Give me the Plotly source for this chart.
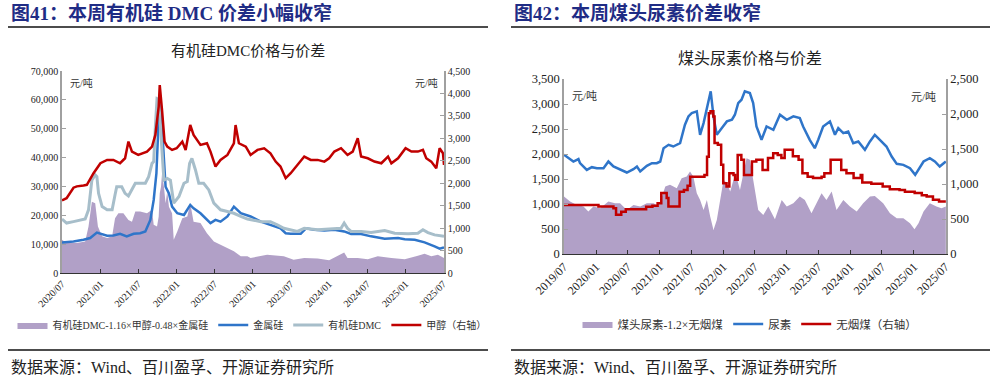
import plotly.graph_objects as go

# ---------------- Data: 图41 有机硅DMC ----------------
dmc_x_ticks = ["2020-07-01", "2021-01-01", "2021-07-01", "2022-01-01", "2022-07-01", "2023-01-01",
               "2023-07-01", "2024-01-01", "2024-07-01", "2025-01-01", "2025-07-01"]
dmc_x_text = ["2020/07", "2021/01", "2021/07", "2022/01", "2022/07", "2023/01",
              "2023/07", "2024/01", "2024/07", "2025/01", "2025/07"]

spread_dates = ["2020-07-01", "2020-07-23", "2020-09-10", "2020-10-20", "2020-11-05", "2020-11-21", "2020-12-07",
                "2020-12-20", "2021-01-09", "2021-02-02", "2021-02-26", "2021-03-12", "2021-03-28", "2021-04-21",
                "2021-05-15", "2021-06-01", "2021-06-17", "2021-07-10", "2021-08-12", "2021-09-05", "2021-09-13",
                "2021-09-29", "2021-10-07", "2021-10-12", "2021-10-18", "2021-10-23", "2021-11-01", "2021-11-09",
                "2021-11-17", "2021-11-25", "2021-12-10", "2021-12-18", "2022-01-04", "2022-01-28", "2022-02-21",
                "2022-03-07", "2022-03-23", "2022-04-25", "2022-05-26", "2022-06-28", "2022-07-30", "2022-09-01",
                "2022-10-02", "2022-11-04", "2022-12-06", "2022-12-21", "2023-03-10", "2023-05-29", "2023-07-15",
                "2023-09-04", "2023-11-07", "2024-01-01", "2024-02-11", "2024-03-13", "2024-03-29", "2024-05-17",
                "2024-07-04", "2024-08-21", "2024-10-25", "2024-12-28", "2025-03-01", "2025-04-02", "2025-05-04",
                "2025-06-05", "2025-07-04"]
spread_vals = [11500, 10400, 10400, 10900, 16100, 24700, 24200,
               16100, 12700, 12100, 12700, 19000, 20700, 20700,
               18400, 17800, 21300, 21300, 20700, 21900, 16700,
               16100, 19600, 27600, 29900, 34500, 29900, 24200,
               28200, 23000, 20700, 11500, 14400, 19000, 19600,
               24200, 17800, 17300, 13800, 10900, 9800, 8600,
               7500, 5800, 5800, 5200, 6300, 5800, 4600,
               5200, 5000, 4400, 5800, 7100, 5200, 5200,
               4800, 5800, 5200, 4800, 6000, 6700, 5800,
               6300, 5200]

si_dates = ["2020-07-01", "2020-08-25", "2020-10-12", "2020-11-13", "2020-12-15", "2021-01-01", "2021-02-02",
            "2021-03-04", "2021-04-05", "2021-05-07", "2021-06-09", "2021-07-10", "2021-08-04", "2021-08-28",
            "2021-09-13", "2021-09-26", "2021-10-04", "2021-10-10", "2021-10-18", "2021-10-28", "2021-11-09",
            "2021-11-25", "2021-12-10", "2022-01-04", "2022-02-05", "2022-03-07", "2022-03-23", "2022-04-25",
            "2022-06-12", "2022-07-06", "2022-07-30", "2022-09-01", "2022-10-02", "2022-11-04", "2022-12-06",
            "2022-12-21", "2023-02-08", "2023-03-26", "2023-05-13", "2023-06-07", "2023-07-01", "2023-08-18",
            "2023-09-12", "2023-10-21", "2023-12-09", "2024-01-26", "2024-03-13", "2024-04-15", "2024-06-02",
            "2024-07-20", "2024-09-23", "2024-11-26", "2024-12-28", "2025-02-14", "2025-04-02", "2025-05-20",
            "2025-06-13", "2025-07-04"]
si_vals = [10600, 10900, 11500, 12100, 14000, 13600, 12900,
           13000, 13600, 12700, 13600, 13800, 14400, 18400,
           25300, 34500, 50600, 58700, 56400, 43700, 29900,
           27600, 23000, 20700, 20100, 23600, 22400, 20700,
           17300, 18400, 17800, 19600, 23000, 20700, 19800,
           19600, 17800, 16700, 15500, 13800, 13600, 13600,
           15500, 15000, 14700, 15000, 14400, 13500, 13500,
           12700, 11900, 12100, 11700, 11500, 10600, 9200,
           8400, 8900]

dmc_dates = ["2020-07-01", "2020-07-23", "2020-08-25", "2020-10-20", "2020-11-05", "2020-11-21", "2020-12-07",
             "2020-12-15", "2020-12-23", "2021-01-09", "2021-02-02", "2021-02-26", "2021-03-12", "2021-03-20",
             "2021-04-13", "2021-04-29", "2021-05-15", "2021-06-01", "2021-06-17", "2021-08-04", "2021-08-20",
             "2021-09-05", "2021-09-13", "2021-09-21", "2021-09-29", "2021-10-07", "2021-10-15", "2021-10-23",
             "2021-11-01", "2021-11-17", "2021-12-02", "2021-12-18", "2022-01-12", "2022-02-05", "2022-02-21",
             "2022-03-04", "2022-03-15", "2022-04-01", "2022-04-17", "2022-05-10", "2022-06-04", "2022-06-28",
             "2022-07-30", "2022-09-01", "2022-10-02", "2022-11-04", "2022-12-06", "2023-02-08", "2023-03-26",
             "2023-04-28", "2023-05-29", "2023-08-02", "2023-09-04", "2023-11-07", "2024-01-26", "2024-02-27",
             "2024-03-13", "2024-03-29", "2024-04-15", "2024-06-02", "2024-07-20", "2024-09-23", "2024-11-10",
             "2025-01-13", "2025-03-01", "2025-03-25", "2025-04-18", "2025-05-20", "2025-07-04"]
dmc_vals = [18700, 17300, 17800, 18700, 21900, 32200, 34000,
            33400, 27600, 23000, 21900, 21900, 27100, 29900,
            29900, 27600, 26700, 28800, 31100, 31100, 33400,
            38000, 38600, 50600, 60400, 60100, 50600, 39100,
            32200, 32800, 32200, 24200, 26500, 31100, 31700,
            38000, 39700, 35700, 31100, 31100, 28800, 24200,
            21900, 21300, 20700, 19600, 18700, 17800, 17800,
            16700, 15500, 14400, 15500, 15000, 15500, 15500,
            17300, 15500, 14400, 14400, 14000, 14700, 13800,
            13600, 13800, 15000, 14000, 13200, 12700]

meoh_dates = ["2020-07-01", "2020-07-23", "2020-08-25", "2020-09-10", "2020-10-12", "2020-10-28", "2020-11-29",
              "2021-01-01", "2021-02-02", "2021-03-04", "2021-04-05", "2021-04-29", "2021-05-15", "2021-06-01",
              "2021-07-01", "2021-08-12", "2021-09-05", "2021-09-21", "2021-10-07", "2021-10-12", "2021-10-23",
              "2021-11-04", "2021-11-17", "2021-12-10", "2022-01-01", "2022-01-28", "2022-02-13", "2022-03-07",
              "2022-03-23", "2022-04-25", "2022-05-26", "2022-06-12", "2022-07-06", "2022-07-30", "2022-09-01",
              "2022-10-02", "2022-10-10", "2022-10-26", "2022-11-28", "2022-12-21", "2023-01-23", "2023-02-24",
              "2023-03-26", "2023-04-20", "2023-05-13", "2023-06-07", "2023-07-01", "2023-08-02", "2023-09-04",
              "2023-10-05", "2023-11-07", "2023-12-09", "2024-01-01", "2024-01-26", "2024-02-27", "2024-03-29",
              "2024-04-23", "2024-05-17", "2024-06-02", "2024-07-04", "2024-08-05", "2024-09-07", "2024-10-09",
              "2024-10-25", "2024-11-26", "2025-01-01", "2025-01-29", "2025-03-01", "2025-03-25", "2025-04-10",
              "2025-05-04", "2025-05-28", "2025-06-13", "2025-06-29", "2025-07-04"]
meoh_vals = [1615, 1667, 1900, 1930, 1950, 1964, 2223,
             2445, 2520, 2520, 2445, 2556, 2927, 2705,
             2630, 2705, 2816, 3075, 3705, 4187, 3630,
             2927, 2816, 2742, 2779, 2927, 2742, 3297,
             3075, 2853, 2890, 2705, 2371, 2520, 2630,
             2890, 3297, 2890, 2816, 2630, 2742, 2779,
             2668, 2482, 2371, 2112, 2223, 2408, 2594,
             2520, 2520, 2482, 2556, 2705, 2779, 2630,
             2705, 3001, 2594, 2556, 2482, 2445, 2594,
             2445, 2556, 2779, 2705, 2705, 2742, 2556,
             2482, 2334, 2779, 2668, 2408]

# ---------------- Data: 图42 煤头尿素 ----------------
urea_x_ticks = ["2019-07-01", "2020-01-01", "2020-07-01", "2021-01-01", "2021-07-01", "2022-01-01", "2022-07-01",
                "2023-01-01", "2023-07-01", "2024-01-01", "2024-07-01", "2025-01-01", "2025-07-01"]
urea_x_text = ["2019/07", "2020/01", "2020/07", "2021/01", "2021/07", "2022/01", "2022/07",
               "2023/01", "2023/07", "2024/01", "2024/07", "2025/01", "2025/07"]

urea_dates = ["2019-07-01", "2019-07-26", "2019-08-24", "2019-09-13", "2019-09-22", "2019-10-01", "2019-10-21",
              "2019-11-09", "2019-12-08", "2020-01-06", "2020-02-13", "2020-03-12", "2020-04-10", "2020-05-18",
              "2020-06-26", "2020-08-03", "2020-08-23", "2020-09-11", "2020-10-19", "2020-11-17", "2020-12-15",
              "2021-01-04", "2021-01-23", "2021-02-21", "2021-03-20", "2021-04-28", "2021-05-26", "2021-06-15",
              "2021-07-04", "2021-08-02", "2021-08-21", "2021-09-10", "2021-10-08", "2021-10-21", "2021-11-06",
              "2021-11-25", "2021-12-24", "2022-01-22", "2022-02-20", "2022-03-09", "2022-03-28", "2022-04-16",
              "2022-05-05", "2022-06-03", "2022-06-22", "2022-07-11", "2022-08-09", "2022-09-07", "2022-10-16",
              "2022-11-23", "2023-01-01", "2023-02-08", "2023-03-17", "2023-04-05", "2023-05-13", "2023-06-11",
              "2023-07-01", "2023-07-29", "2023-09-06", "2023-10-05", "2023-10-24", "2023-11-22", "2023-12-20",
              "2024-01-18", "2024-02-16", "2024-03-25", "2024-04-23", "2024-05-21", "2024-06-19", "2024-07-27",
              "2024-08-26", "2024-09-24", "2024-11-01", "2024-12-09", "2025-01-08", "2025-02-06", "2025-02-25",
              "2025-04-02", "2025-05-01", "2025-05-29", "2025-06-18", "2025-07-03"]
urea_vals = [1984, 1917, 1850, 1884, 1900, 1817, 1750,
             1683, 1737, 1717, 1717, 1850, 1750, 1683,
             1630, 1697, 1750, 1650, 1763, 1817, 1817,
             1850, 2117, 2184, 2150, 2217, 2585, 2752,
             2818, 2852, 2384, 2618, 3019, 3253, 2752,
             2384, 2518, 2652, 2685, 2785, 3019, 3086,
             3253, 3219, 3019, 2551, 2284, 2551, 2485,
             2785, 2685, 2752, 2718, 2551, 2284, 2117,
             2284, 2551, 2652, 2384, 2518, 2418, 2451,
             2217, 2251, 2084, 2251, 2384, 2284, 2150,
             1950, 1803, 1783, 1717, 1583, 1750, 1850,
             1917, 1850, 1750, 1817, 1850]

uspread_dates = ["2019-07-01", "2019-08-05", "2019-09-13", "2019-10-21", "2019-11-18", "2019-12-17", "2020-01-25",
                 "2020-03-12", "2020-04-19", "2020-05-18", "2020-06-26", "2020-08-03", "2020-09-11", "2020-10-19",
                 "2020-11-27", "2020-12-25", "2021-01-14", "2021-02-02", "2021-03-01", "2021-04-09", "2021-05-07",
                 "2021-06-05", "2021-06-24", "2021-07-13", "2021-08-02", "2021-08-21", "2021-09-10", "2021-09-29",
                 "2021-10-18", "2021-11-06", "2021-11-25", "2021-12-14", "2022-01-03", "2022-01-22", "2022-02-10",
                 "2022-03-01", "2022-03-18", "2022-04-07", "2022-04-26", "2022-05-15", "2022-06-03", "2022-06-22",
                 "2022-07-21", "2022-08-19", "2022-09-17", "2022-10-25", "2022-12-03", "2023-01-01", "2023-02-08",
                 "2023-03-17", "2023-04-15", "2023-05-23", "2023-07-01", "2023-07-20", "2023-08-17", "2023-09-16",
                 "2023-10-14", "2023-11-22", "2023-12-30", "2024-02-07", "2024-03-15", "2024-04-23", "2024-05-21",
                 "2024-07-08", "2024-08-16", "2024-09-24", "2024-11-01", "2024-12-09", "2025-01-04", "2025-01-27",
                 "2025-02-25", "2025-04-02", "2025-05-10", "2025-06-08", "2025-07-03"]
uspread_vals = [1149, 1049, 982, 948, 848, 948, 915,
                1049, 1015, 1015, 882, 982, 948, 1015,
                1015, 948, 1149, 1349, 1383, 1316, 1516,
                1550, 1650, 1550, 1216, 1082, 882, 1082,
                748, 481, 681, 1082, 1483, 1416, 1249,
                1483, 1550, 1282, 1616, 1917, 1884, 1483,
                882, 781, 948, 695, 1082, 948, 1015,
                1149, 1082, 815, 1082, 1216, 1082, 1249,
                882, 1082, 948, 848, 1015, 1149, 1162,
                1015, 815, 715, 715, 615, 494, 615,
                848, 1015, 948, 915, 948]

coal_dates = ["2019-07-01", "2020-01-15", "2020-04-10", "2020-04-25", "2020-05-25", "2020-06-20", "2020-10-15",
              "2020-11-20", "2020-12-20", "2021-01-10", "2021-02-10", "2021-02-20", "2021-04-25", "2021-05-20",
              "2021-06-10", "2021-06-25", "2021-09-15", "2021-09-30", "2021-10-10", "2021-10-20", "2021-11-05",
              "2021-11-12", "2021-12-01", "2021-12-20", "2022-01-01", "2022-01-20", "2022-02-05", "2022-03-01",
              "2022-03-10", "2022-03-25", "2022-04-15", "2022-04-30", "2022-06-15", "2022-07-10", "2022-08-15",
              "2022-09-15", "2022-10-15", "2022-11-10", "2022-12-01", "2022-12-20", "2023-02-05", "2023-03-10",
              "2023-04-01", "2023-05-01", "2023-06-01", "2023-07-20", "2023-08-05", "2023-09-10", "2023-11-10",
              "2023-12-10", "2024-01-20", "2024-03-01", "2024-03-10", "2024-05-01", "2024-07-05", "2024-08-15",
              "2024-10-10", "2024-11-10", "2025-01-05", "2025-02-15", "2025-03-15", "2025-04-20", "2025-05-25",
              "2025-07-03"]
coal_vals = [700, 680, 655, 560, 605, 640, 675,
             690, 725, 870, 800, 680, 890, 915,
             975, 1105, 1130, 1390, 2010, 2040, 1965,
             1585, 1560, 1275, 1010, 965, 1155, 1130,
             1060, 1415, 1345, 1130, 1320, 1345, 1200,
             1370, 1440, 1415, 1370, 1490, 1395, 1345,
             1155, 1105, 1085, 1105, 1155, 1345, 1200,
             1155, 1085, 1130, 1020, 1005, 965, 925,
             915, 890, 870, 840, 820, 775, 750,
             750]

# ---------------- Styling ----------------
W, H = 1003, 390
def px(x):
    return x / W
def py(y):
    return 1 - y / H

SERIF = "Liberation Serif, Noto Sans CJK SC, serif"
PURPLE = "#B1A0C7"
BLUE = "#2F75C9"
GRAY = "#A7BECA"
RED = "#C00000"
NAVY = "#1F2C85"
AX_GRAY = "#A0A0A0"

fig = go.Figure()

# left chart
fig.add_trace(go.Scatter(x=spread_dates, y=spread_vals, name="有机硅DMC-1.16×甲醇-0.48×金属硅",
                         fill="tozeroy", fillcolor=PURPLE, line=dict(width=0, color=PURPLE),
                         mode="lines", xaxis="x", yaxis="y", legend="legend"))
fig.add_trace(go.Scatter(x=si_dates, y=si_vals, name="金属硅", mode="lines",
                         line=dict(color=BLUE, width=2.5), xaxis="x", yaxis="y", legend="legend"))
fig.add_trace(go.Scatter(x=dmc_dates, y=dmc_vals, name="有机硅DMC", mode="lines",
                         line=dict(color=GRAY, width=3), xaxis="x", yaxis="y", legend="legend"))
fig.add_trace(go.Scatter(x=meoh_dates, y=meoh_vals, name="甲醇（右轴）", mode="lines",
                         line=dict(color=RED, width=2.5), xaxis="x", yaxis="y2", legend="legend"))

# right chart
fig.add_trace(go.Scatter(x=uspread_dates, y=uspread_vals, name="煤头尿素-1.2×无烟煤",
                         fill="tozeroy", fillcolor=PURPLE, line=dict(width=0, color=PURPLE),
                         mode="lines", xaxis="x2", yaxis="y3", legend="legend2"))
fig.add_trace(go.Scatter(x=urea_dates, y=urea_vals, name="尿素", mode="lines",
                         line=dict(color=BLUE, width=2.5), xaxis="x2", yaxis="y3", legend="legend2"))
fig.add_trace(go.Scatter(x=coal_dates, y=coal_vals, name="无烟煤（右轴）", mode="lines",
                         line=dict(color=RED, width=2.5, shape="hv"), xaxis="x2", yaxis="y4", legend="legend2"))

tickfont_s = dict(family=SERIF, size=10, color="#222")
tickfont_m = dict(family=SERIF, size=12.5, color="#222")

yax_common = dict(showgrid=False, zeroline=False, showline=True, linecolor=AX_GRAY, linewidth=1.5,
                  ticks="inside", ticklen=4, tickcolor=AX_GRAY, tickformat=",d", automargin=False)
xax_common = dict(type="date", showgrid=False, zeroline=False, showline=True, linecolor="#333",
                  linewidth=1.2, ticks="inside", ticklen=4, tickcolor="#333", tickangle=-45,
                  automargin=False)

fig.update_layout(
    width=W, height=H, autosize=False,
    margin=dict(l=0, r=0, t=0, b=0, autoexpand=False),
    paper_bgcolor="white", plot_bgcolor="rgba(0,0,0,0)",
    font=dict(family=SERIF, color="#222"),
    xaxis=dict(**xax_common, domain=[px(62), px(444)], anchor="y",
               range=["2020-07-01", "2025-07-04"], tickvals=dmc_x_ticks, ticktext=dmc_x_text,
               tickfont=tickfont_s),
    yaxis=dict(**yax_common, domain=[py(273), py(71)], anchor="x", range=[0, 70000], dtick=10000,
               tickfont=tickfont_s),
    yaxis2=dict(**yax_common, overlaying="y", side="right", anchor="x", range=[0, 4500], dtick=500,
                tickfont=tickfont_s),
    xaxis2=dict(**xax_common, domain=[px(564), px(946)], anchor="y3",
                range=["2019-07-01", "2025-07-04"], tickvals=urea_x_ticks, ticktext=urea_x_text,
                tickfont=dict(family=SERIF, size=12, color="#222")),
    yaxis3=dict(**yax_common, domain=[py(254), py(79)], anchor="x2", range=[0, 3500], dtick=500,
                tickfont=tickfont_m),
    yaxis4=dict(**yax_common, overlaying="y3", side="right", anchor="x2", range=[0, 2500], dtick=500,
                tickfont=tickfont_m),
    legend=dict(orientation="h", x=px(252), xanchor="center", y=py(325), yanchor="middle",
                font=dict(family=SERIF, size=10, color="#333"), bgcolor="rgba(0,0,0,0)",
                itemwidth=30),
    legend2=dict(orientation="h", x=px(750), xanchor="center", y=py(324), yanchor="middle",
                 font=dict(family=SERIF, size=11.5, color="#333"), bgcolor="rgba(0,0,0,0)",
                 itemwidth=30),
    showlegend=True,
)

annotations = [
    dict(text="<b>图41：本周有机硅 DMC 价差小幅收窄</b>", x=px(9), y=py(13), xanchor="left", yanchor="middle",
         font=dict(family=SERIF, size=19, color=NAVY)),
    dict(text="<b>图42：本周煤头尿素价差收窄</b>", x=px(512), y=py(13), xanchor="left", yanchor="middle",
         font=dict(family=SERIF, size=19, color=NAVY)),
    dict(text="有机硅DMC价格与价差", x=px(248), y=py(51), xanchor="center", yanchor="middle",
         font=dict(family=SERIF, size=15, color="#222")),
    dict(text="煤头尿素价格与价差", x=px(750), y=py(58), xanchor="center", yanchor="middle",
         font=dict(family=SERIF, size=16, color="#222")),
    dict(text="元/吨", x=px(68), y=py(83), xanchor="left", yanchor="middle",
         font=dict(family=SERIF, size=10, color="#333")),
    dict(text="元/吨", x=px(440), y=py(83), xanchor="right", yanchor="middle",
         font=dict(family=SERIF, size=10, color="#333")),
    dict(text="元/吨", x=px(570), y=py(96), xanchor="left", yanchor="middle",
         font=dict(family=SERIF, size=11, color="#333")),
    dict(text="元/吨", x=px(938), y=py(97), xanchor="right", yanchor="middle",
         font=dict(family=SERIF, size=11, color="#333")),
    dict(text="数据来源：Wind、百川盈孚、开源证券研究所", x=px(9), y=py(367), xanchor="left", yanchor="middle",
         font=dict(family=SERIF, size=16, color="#222")),
    dict(text="数据来源：Wind、百川盈孚、开源证券研究所", x=px(512), y=py(367), xanchor="left", yanchor="middle",
         font=dict(family=SERIF, size=16, color="#222")),
]
for a in annotations:
    a.update(xref="paper", yref="paper", showarrow=False)
fig.update_layout(annotations=annotations)

shapes = []
for (x0, x1) in [(8, 488), (511, 990)]:
    for yy in (27, 350):
        shapes.append(dict(type="line", xref="paper", yref="paper", x0=px(x0), x1=px(x1),
                           y0=py(yy), y1=py(yy), line=dict(color="#111", width=1.3)))
fig.update_layout(shapes=shapes)

# remove the browser's default 8px body margin so the figure sits at the page origin
fig.write_html("out.html", config={"displayModeBar": False},
               post_script="document.body.style.margin='0';")
